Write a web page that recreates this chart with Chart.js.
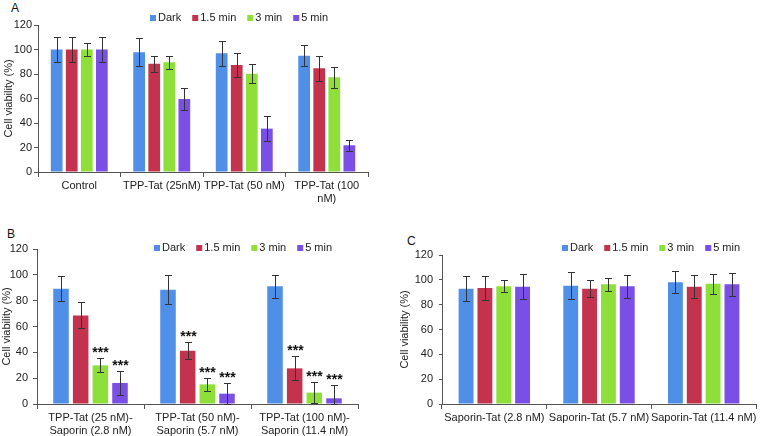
<!DOCTYPE html>
<html>
<head>
<meta charset="utf-8">
<script src="https://cdn.jsdelivr.net/npm/chart.js@4.4.1/dist/chart.umd.min.js"></script>
<style>
  body { margin: 0; background: #fff; }
  #wrap { position: relative; width: 760px; height: 436px; font-family: "Liberation Sans", Arial, sans-serif; }
  canvas, .tag { position: absolute; }
  .tag { font-size: 12px; color: #111; line-height: 12px; }
</style>
</head>
<body>
<div id="wrap">
  <div class="tag" style="left:11px;top:2px">A</div>
  <div class="tag" style="left:7px;top:228px">B</div>
  <div class="tag" style="left:407px;top:235px">C</div>
  <canvas id="chartA" width="380" height="218" style="left:0;top:0;width:380px;height:218px"></canvas>
  <canvas id="chartB" width="380" height="214" style="left:0;top:222px;width:380px;height:214px"></canvas>
  <canvas id="chartC" width="375" height="214" style="left:385px;top:222px;width:375px;height:214px"></canvas>
</div>
<script>
(function() {

    var seriesNames = ['Dark', '1.5 min', '3 min', '5 min'];
    var seriesColors = ['#4f8fe8', '#c3334d', '#8fdf3a', '#7a4fe6'];
    var yTicks = [0, 20, 40, 60, 80, 100, 120];

    // Panel A
    var catsA = ['Control', 'TPP-Tat (25nM)', 'TPP-Tat (50 nM)', ['TPP-Tat (100', 'nM)']];
    var darkA = [100, 97.7, 96.9, 95.0];
    var min15A = [100, 88.4, 87.3, 84.6];
    var min3A = [100, 89.5, 80.3, 77.3];
    var min5A = [100, 59.6, 35.4, 21.8];
    var errDarkA = [10, 11.5, 10, 8.3];
    var err15A = [10, 6.7, 9.5, 10.5];
    var err3A = [5.5, 5.3, 8, 8.5];
    var err5A = [10, 9, 10, 4.7];

    // Panel B
    var catsB = [['TPP-Tat (25 nM)-', 'Saporin (2.8 nM)'], ['TPP-Tat (50 nM)-', 'Saporin (5.7 nM)'], ['TPP-Tat (100 nM)-', 'Saporin (11.4 nM)']];
    var darkB = [89.3, 88.5, 91.1];
    var min15B = [68.6, 41.3, 27.6];
    var min3B = [29.9, 15.2, 8.8];
    var min5B = [16.3, 8.0, 4.4];
    var errDarkB = [9.7, 11, 8.7];
    var err15B = [10, 6.7, 9.4];
    var err3B = [5.5, 5, 8];
    var err5B = [9.5, 8.5, 10];
    var starsDarkB = ['', '', ''];
    var stars15B = ['', '***', '***'];
    var stars3B = ['***', '***', '***'];
    var stars5B = ['***', '***', '***'];

    // Panel C
    var catsC = ['Saporin-Tat (2.8 nM)', 'Saporin-Tat (5.7 nM)', 'Saporin-Tat (11.4 nM)'];
    var darkC = [92.9, 95.3, 98.0];
    var min15C = [93.4, 92.9, 94.5];
    var min3C = [94.8, 96.4, 96.9];
    var min5C = [94.5, 94.8, 96.4];
    var errDarkC = [9.8, 11, 9];
    var err15C = [9.7, 7, 9.3];
    var err3C = [5, 5.3, 8];
    var err5C = [10, 9.2, 9.5];

    var FONT = '"Liberation Sans", Arial, sans-serif';
    var TEXT = '#222';
    var AXIS = '#555';

    /**
     * error bars + significance stars
     */
    var errorBars = {
        id: 'errorBars',
        afterDatasetsDraw: function(chart) {
            var ctx = chart.ctx, y = chart.scales.y;
            ctx.save();
            ctx.strokeStyle = '#333';
            ctx.lineWidth = 1;
            ctx.fillStyle = '#111';
            ctx.font = 'bold 14px ' + FONT;
            ctx.textAlign = 'center';
            ctx.textBaseline = 'alphabetic';
            chart.data.datasets.forEach(function(ds, i) {
                chart.getDatasetMeta(i).data.forEach(function(bar, j) {
                    var v = ds.data[j], e = ds.err[j];
                    var top = Math.round(y.getPixelForValue(v + e)) + 0.5;
                    var bot = Math.round(y.getPixelForValue(Math.max(0, v - e))) + 0.5;
                    var x = Math.round(bar.x) + 0.5;
                    ctx.beginPath();
                    ctx.moveTo(x, top); ctx.lineTo(x, bot);
                    ctx.moveTo(x - 3.5, top); ctx.lineTo(x + 3.5, top);
                    ctx.moveTo(x - 3.5, bot); ctx.lineTo(x + 3.5, bot);
                    ctx.stroke();
                    if (ds.stars && ds.stars[j]) {
                        ctx.fillText(ds.stars[j], x, top - 2);
                    }
                });
            });
            ctx.restore();
        }
    };

    /**
     * small legend drawn over the top of the plot
     */
    var topLegend = {
        id: 'topLegend',
        afterDraw: function(chart, args, opts) {
            var ctx = chart.ctx;
            var x = chart.chartArea.left + opts.offsetX;
            var y = opts.y;
            ctx.save();
            ctx.font = '11px ' + FONT;
            ctx.textBaseline = 'middle';
            ctx.textAlign = 'left';
            chart.data.datasets.forEach(function(ds) {
                ctx.fillStyle = ds.backgroundColor;
                ctx.fillRect(x, y - 3, 6, 6);
                x += 8;
                ctx.fillStyle = TEXT;
                ctx.fillText(ds.label, x, y);
                x += ctx.measureText(ds.label).width + 11;
            });
            ctx.restore();
        }
    };

    function buildChart(id, cats, values, errs, stars, lay) {
        var datasets = values.map(function(vals, i) {
            return {
                label: seriesNames[i],
                data: vals,
                err: errs[i],
                stars: stars ? stars[i] : null,
                backgroundColor: seriesColors[i],
                borderWidth: 0,
                categoryPercentage: lay.cp,
                barPercentage: lay.bp
            };
        });
        return new Chart(document.getElementById(id).getContext('2d'), {
            type: 'bar',
            data: { labels: cats, datasets: datasets },
            plugins: [errorBars, topLegend],
            options: {
                responsive: false,
                animation: false,
                layout: { padding: { top: lay.top, right: lay.right, left: 0, bottom: 0 } },
                plugins: {
                    legend: { display: false },
                    tooltip: { enabled: false },
                    topLegend: { offsetX: lay.legendX, y: lay.legendY }
                },
                scales: {
                    x: {
                        grid: { display: true, drawOnChartArea: false, offset: true, tickLength: 5, color: AXIS },
                        border: { color: AXIS, width: 1 },
                        ticks: { color: TEXT, font: { family: FONT, size: 11 }, padding: 2, maxRotation: 0, autoSkip: false },
                        afterFit: function(s) { s.height = lay.xh; }
                    },
                    y: {
                        min: 0,
                        max: 120,
                        afterBuildTicks: function(s) { s.ticks = yTicks.map(function(v) { return { value: v }; }); },
                        grid: { display: true, drawOnChartArea: false, tickLength: lay.tl, color: AXIS },
                        border: { color: AXIS, width: 1 },
                        ticks: { color: TEXT, font: { family: FONT, size: 11 }, padding: lay.tp },
                        title: {
                            display: true,
                            text: 'Cell viability (%)',
                            color: TEXT,
                            font: { family: FONT, size: 11 },
                            padding: { top: lay.titlePad, bottom: 0 }
                        },
                        afterFit: function(s) { s.width = lay.yw; }
                    }
                }
            }
        });
    }

    buildChart('chartA', catsA,
        [darkA, min15A, min3A, min5A],
        [errDarkA, err15A, err3A, err5A],
        null,
        { top: 25, right: 12, xh: 46, yw: 38, tl: 4, tp: 2, titlePad: 2, cp: 0.73, bp: 0.78, legendX: 112, legendY: 18 });

    buildChart('chartB', catsB,
        [darkB, min15B, min3B, min5B],
        [errDarkB, err15B, err3B, err5B],
        [starsDarkB, stars15B, stars3B, stars5B],
        { top: 27, right: 22, xh: 32, yw: 37, tl: 4, tp: 5, titlePad: 0, cp: 0.735, bp: 0.79, legendX: 117, legendY: 26 });

    buildChart('chartC', catsC,
        [darkC, min15C, min3C, min5C],
        [errDarkC, err15C, err3C, err5C],
        null,
        { top: 33, right: 4, xh: 32, yw: 57, tl: 3, tp: 6, titlePad: 13, cp: 0.72, bp: 0.79, legendX: 120, legendY: 26 });

})()
</script>
</body>
</html>
